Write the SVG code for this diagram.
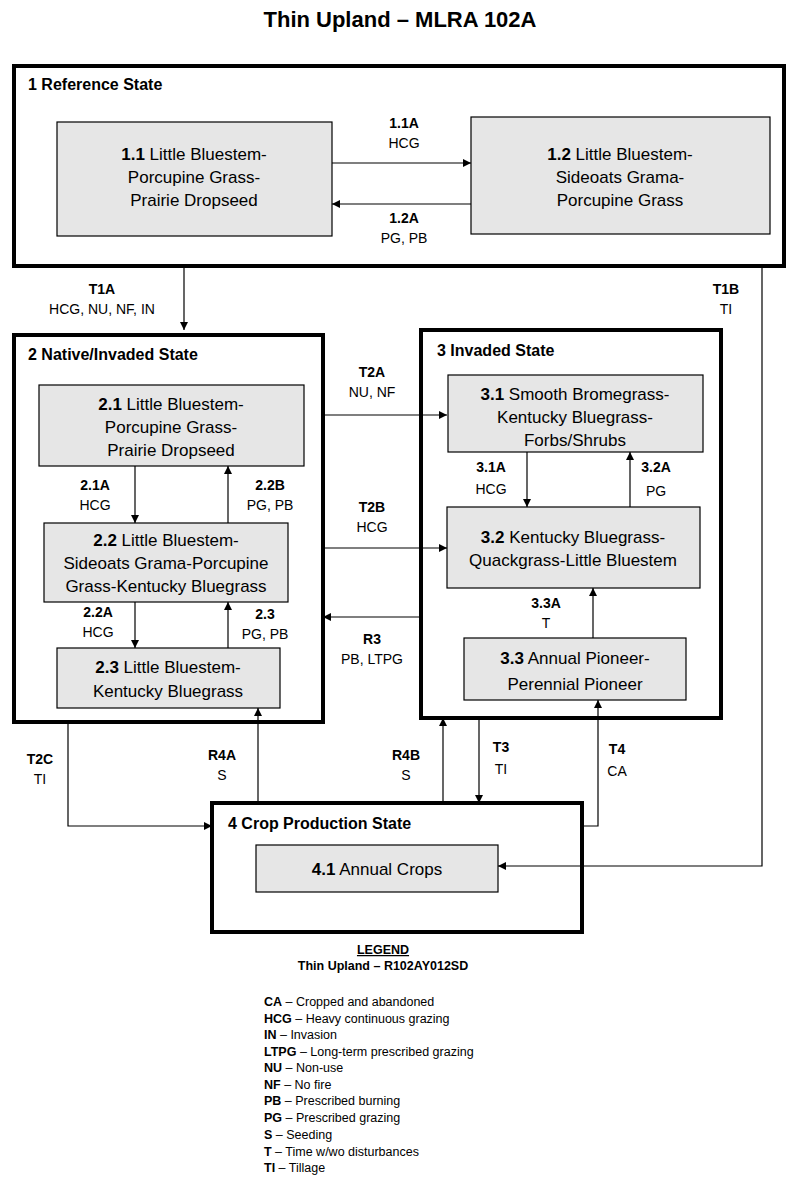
<svg xmlns="http://www.w3.org/2000/svg" width="800" height="1184" viewBox="0 0 800 1184">
<style>
text{font-family:"Liberation Sans",Arial,sans-serif;fill:#000}
.t{font-size:22px;font-weight:bold}
.st{font-size:16px;font-weight:bold}
.bx{font-size:17px;text-anchor:middle}
.b{font-weight:bold}
.lb{font-size:14px;text-anchor:middle}
.lg{font-size:12.5px}
.state{fill:#fff;stroke:#000;stroke-width:4}
.com{fill:#e6e6e6;stroke:#000;stroke-width:1.2}
.c{fill:none;stroke:#000;stroke-width:1.2;marker-end:url(#a)}
.n{fill:none;stroke:#000;stroke-width:1.2}
</style>
<defs><marker id="a" viewBox="0 0 10 10" refX="10" refY="5" markerWidth="8" markerHeight="8" orient="auto" markerUnits="userSpaceOnUse"><path d="M0,0L10,5L0,10z"/></marker></defs>
<rect width="800" height="1184" fill="#fff"/>
<text class="t" x="400" y="27" text-anchor="middle">Thin Upland – MLRA 102A</text>
<g id="s1"><rect class="state" x="14" y="66" width="770" height="200"/><text class="st" x="28" y="90">1 Reference State</text></g>
<g id="n11"><rect class="com" x="57" y="122" width="275" height="114"/><text class="bx" x="194" y="160"><tspan class="b">1.1</tspan> Little Bluestem-</text><text class="bx" x="194" y="183">Porcupine Grass-</text><text class="bx" x="194" y="206">Prairie Dropseed</text></g>
<g id="n12"><rect class="com" x="471" y="117" width="299" height="117"/><text class="bx" x="620" y="160"><tspan class="b">1.2</tspan> Little Bluestem-</text><text class="bx" x="620" y="183">Sideoats Grama-</text><text class="bx" x="620" y="206">Porcupine Grass</text></g>
<g id="s2"><rect class="state" x="14" y="335" width="309" height="387"/><text class="st" x="28" y="360">2 Native/Invaded State</text></g>
<g id="n21"><rect class="com" x="39" y="385" width="265" height="81"/><text class="bx" x="171" y="410"><tspan class="b">2.1</tspan> Little Bluestem-</text><text class="bx" x="171" y="433">Porcupine Grass-</text><text class="bx" x="171" y="456">Prairie Dropseed</text></g>
<g id="n22"><rect class="com" x="44" y="523" width="244" height="79"/><text class="bx" x="166" y="546"><tspan class="b">2.2</tspan>  Little Bluestem-</text><text class="bx" x="166" y="569">Sideoats Grama-Porcupine</text><text class="bx" x="166" y="592">Grass-Kentucky Bluegrass</text></g>
<g id="n23"><rect class="com" x="57" y="648" width="223" height="60"/><text class="bx" x="168" y="673"><tspan class="b">2.3</tspan> Little Bluestem-</text><text class="bx" x="168" y="697">Kentucky Bluegrass</text></g>
<g id="s3"><rect class="state" x="421" y="330" width="300" height="388"/><text class="st" x="437" y="356">3 Invaded State</text></g>
<g id="n31"><rect class="com" x="448" y="375" width="255" height="77"/><text class="bx" x="575" y="400"><tspan class="b">3.1</tspan> Smooth Bromegrass-</text><text class="bx" x="575" y="423">Kentucky Bluegrass-</text><text class="bx" x="575" y="446">Forbs/Shrubs</text></g>
<g id="n32"><rect class="com" x="447" y="507" width="253" height="81"/><text class="bx" x="573" y="543"><tspan class="b">3.2</tspan> Kentucky Bluegrass-</text><text class="bx" x="573" y="566">Quackgrass-Little Bluestem</text></g>
<g id="n33"><rect class="com" x="464" y="638" width="222" height="62"/><text class="bx" x="575" y="664"><tspan class="b">3.3</tspan> Annual Pioneer-</text><text class="bx" x="575" y="690">Perennial Pioneer</text></g>
<g id="s4"><rect class="state" x="212" y="803" width="370" height="129"/><text class="st" x="228" y="829">4 Crop Production State</text></g>
<g id="n41"><rect class="com" x="256" y="845" width="242" height="47"/><text class="bx" x="377" y="875"><tspan class="b">4.1</tspan> Annual Crops</text></g>
<g id="connectors">
<path class="c" d="M332,163H471"/><path class="c" d="M471,204H332"/>
<path class="c" d="M184,266V330"/>
<path class="c" d="M762,266V866H498"/>
<path class="c" d="M135,466V523"/><path class="c" d="M228,523V466"/>
<path class="c" d="M135,602V648"/><path class="c" d="M228,648V602"/>
<path class="c" d="M527,452V507"/><path class="c" d="M630,507V452"/>
<path class="c" d="M593,638V588"/>
<path class="c" d="M323,415H447"/><path class="c" d="M323,548H447"/>
<path class="c" d="M421,617H323"/>
<path class="c" d="M68,722V826H212"/>
<path class="c" d="M258,803V708"/><path class="c" d="M443,803V718"/>
<path class="c" d="M479,718V803"/>
<path class="c" d="M582,826H598V700"/>
</g>
<g id="labels">
<text class="lb b" x="404" y="128">1.1A</text><text class="lb" x="404" y="148">HCG</text>
<text class="lb b" x="404" y="223">1.2A</text><text class="lb" x="404" y="243">PG, PB</text>
<text class="lb b" x="102" y="294">T1A</text><text class="lb" x="102" y="314">HCG, NU, NF, IN</text>
<text class="lb b" x="726" y="294">T1B</text><text class="lb" x="726" y="314">TI</text>
<text class="lb b" x="95" y="490">2.1A</text><text class="lb" x="95" y="510">HCG</text>
<text class="lb b" x="270" y="490">2.2B</text><text class="lb" x="270" y="510">PG, PB</text>
<text class="lb b" x="98" y="617">2.2A</text><text class="lb" x="98" y="637">HCG</text>
<text class="lb b" x="265" y="619">2.3</text><text class="lb" x="265" y="639">PG, PB</text>
<text class="lb b" x="491" y="472">3.1A</text><text class="lb" x="491" y="494">HCG</text>
<text class="lb b" x="656" y="472">3.2A</text><text class="lb" x="656" y="496">PG</text>
<text class="lb b" x="546" y="608">3.3A</text><text class="lb" x="546" y="628">T</text>
<text class="lb b" x="372" y="377">T2A</text><text class="lb" x="372" y="397">NU, NF</text>
<text class="lb b" x="372" y="512">T2B</text><text class="lb" x="372" y="532">HCG</text>
<text class="lb b" x="372" y="644">R3</text><text class="lb" x="372" y="664">PB, LTPG</text>
<text class="lb b" x="40" y="764">T2C</text><text class="lb" x="40" y="784">TI</text>
<text class="lb b" x="222" y="760">R4A</text><text class="lb" x="222" y="780">S</text>
<text class="lb b" x="406" y="760">R4B</text><text class="lb" x="406" y="780">S</text>
<text class="lb b" x="501" y="752">T3</text><text class="lb" x="501" y="774">TI</text>
<text class="lb b" x="617" y="754">T4</text><text class="lb" x="617" y="776">CA</text>
</g>
<g id="legend">
<text class="lg b" x="383" y="954" text-anchor="middle" text-decoration="underline">LEGEND</text>
<text class="lg b" x="383" y="970" text-anchor="middle">Thin Upland – R102AY012SD</text>
<text class="lg" x="264" y="1006"><tspan class="b">CA</tspan> – Cropped and abandoned</text>
<text class="lg" x="264" y="1023"><tspan class="b">HCG</tspan> – Heavy continuous grazing</text>
<text class="lg" x="264" y="1039"><tspan class="b">IN</tspan> – Invasion</text>
<text class="lg" x="264" y="1056"><tspan class="b">LTPG</tspan> – Long-term prescribed grazing</text>
<text class="lg" x="264" y="1072"><tspan class="b">NU</tspan> – Non-use</text>
<text class="lg" x="264" y="1089"><tspan class="b">NF</tspan> – No  fire</text>
<text class="lg" x="264" y="1105"><tspan class="b">PB</tspan> – Prescribed burning</text>
<text class="lg" x="264" y="1122"><tspan class="b">PG</tspan> – Prescribed grazing</text>
<text class="lg" x="264" y="1139"><tspan class="b">S</tspan> – Seeding</text>
<text class="lg" x="264" y="1156"><tspan class="b">T</tspan> – Time  w/wo disturbances</text>
<text class="lg" x="264" y="1172"><tspan class="b">TI</tspan> – Tillage</text>
</g>
</svg>
